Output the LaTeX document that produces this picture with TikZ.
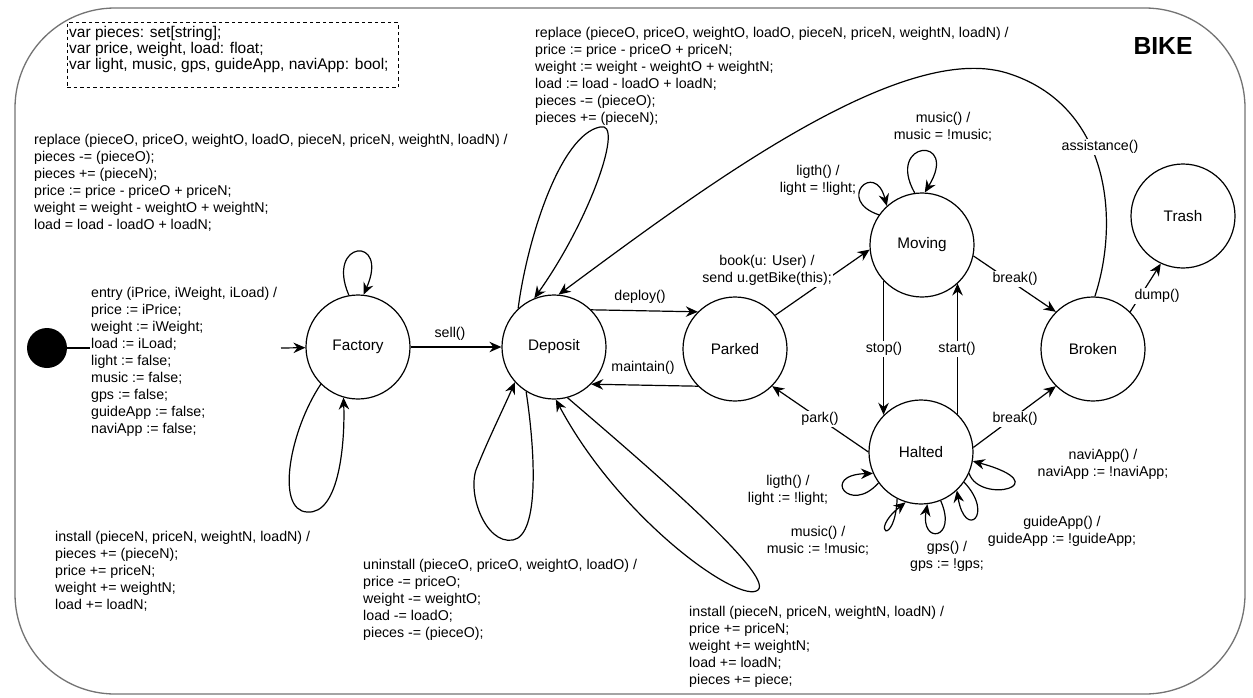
\documentclass[tikz,border=0pt]{standalone}
\usepackage{fontspec}
\setmainfont{Liberation Sans}
\usetikzlibrary{arrows.meta}
\begin{document}
\begin{tikzpicture}[x=1pt,y=-1pt,
  state/.style={circle,draw,line width=1.2pt,minimum size=104pt,inner sep=0pt,font=\fontsize{15.3}{18}\selectfont},
  lbl/.style={font=\fontsize{14.2}{17}\selectfont,inner sep=0pt,align=left,anchor=north west},
  clbl/.style={font=\fontsize{14.2}{17}\selectfont,inner sep=1.5pt,align=center,fill=white},
  ctxt/.style={font=\fontsize{14.2}{17}\selectfont,inner sep=0pt,align=center},
  tr/.style={line width=1.2pt,-{Stealth[length=12pt,width=10.5pt,inset=4pt]}},
  ln/.style={line width=1.2pt},
  declbox/.style={draw,line width=0.9pt,dash pattern=on 3.5pt off 3pt,minimum width=331pt,minimum height=65pt,inner sep=0pt},
  decltxt/.style={font=\fontsize{15.5}{16}\selectfont,inner sep=0pt,align=left,anchor=west},
]
\useasboundingbox (0,0) rectangle (1253,697);
\draw[black!55, line width=1.3pt, rounded corners=100pt] (15,8) rectangle (1245,694);

% declarations
\node[declbox] (decl) at (232.5,55) {};
\node[decltxt] (decltext) at (69,49) {var pieces: set[string];\\var price, weight, load: float;\\var light, music, gps, guideApp, naviApp: bool;};
\node[font=\fontsize{24.7}{28}\selectfont\bfseries] (bike) at (1163,46) {BIKE};

% states
\node[circle,fill=black,minimum size=40pt,inner sep=0pt] (init) at (47,348) {};
\node[state] (factory) at (358,347) {Factory};
\node[state] (deposit) at (554,347) {Deposit};
\node[state] (parked) at (735,349) {Parked};
\node[state] (moving) at (922,245) {Moving};
\node[state] (halted) at (921,452) {Halted};
\node[state] (broken) at (1093,349) {Broken};
\node[state] (trash) at (1183,216) {Trash};

% text blocks
\node[lbl] (entry) at (91,287) {entry (iPrice, iWeight, iLoad) /\\price := iPrice;\\weight := iWeight;\\load := iLoad;\\light := false;\\music := false;\\gps := false;\\guideApp := false;\\naviApp := false;};
\node[lbl] (replF) at (34,134) {replace (pieceO, priceO, weightO, loadO, pieceN, priceN, weightN, loadN) /\\pieces -= (pieceO);\\pieces += (pieceN);\\price := price - priceO + priceN;\\weight = weight - weightO + weightN;\\load = load - loadO + loadN;};
\node[lbl] (instF) at (55,531) {install (pieceN, priceN, weightN, loadN) /\\pieces += (pieceN);\\price += priceN;\\weight += weightN;\\load += loadN;};
\node[lbl] (replD) at (535,27) {replace (pieceO, priceO, weightO, loadO, pieceN, priceN, weightN, loadN) /\\price := price - priceO + priceN;\\weight := weight - weightO + weightN;\\load := load - loadO + loadN;\\pieces -= (pieceO);\\pieces += (pieceN);};
\node[lbl] (uninstD) at (363,559) {uninstall (pieceO, priceO, weightO, loadO) /\\price -= priceO;\\weight -= weightO;\\load -= loadO;\\pieces -= (pieceO);};
\node[lbl] (instD) at (689,606) {install (pieceN, priceN, weightN, loadN) /\\price += priceN;\\weight += weightN;\\load += loadN;\\pieces += piece;};

% initial transition
\coordinate (entryL) at (90,348);
\coordinate (entryR) at (281,348);
\draw[ln] (init) -- (entryL);
\draw[tr] (entryR) -- (factory);

% straight transitions
\draw[tr] (factory) -- (deposit);
\node[ctxt] (sell) at (450,334) {sell()};
\draw[tr] (deposit.45) -- (parked.135);
\node[ctxt] (deploy) at (640,297) {deploy()};
\draw[tr] (parked.225) -- (deposit.-45);
\node[ctxt] (maintain) at (643,368) {maintain()};
\draw[tr] (parked.40) -- (moving.185);
\node[clbl] (book) at (767,270) {book(u: User) /\\send u.getBike(this);};
\draw[tr] (halted.180) -- (parked.-45);
\node[clbl] (park) at (820,419) {park()};
\draw[tr] (moving.223) -- (moving.223 |- halted.135);
\node[clbl] (stop) at (884,349) {stop()};
\draw[tr] (halted.46) -- (halted.46 |- moving.-47);
\node[clbl] (start) at (957,349) {start()};
\draw[tr] (moving.-12) -- (broken.135);
\node[clbl] (break1) at (1015,279) {break()};
\draw[tr] (halted.5) -- (broken.225);
\node[clbl] (break2) at (1015,419) {break()};
\draw[tr] (broken.45) -- (trash.-115);
\node[clbl] (dump) at (1157,296) {dump()};

% assistance
\draw[tr] (broken.88) .. controls (1120,220) and (1110,105) .. (1007,73) .. controls (900,40) and (700,190) .. (deposit.85);
\node[clbl] (assist) at (1100,147) {assistance()};

% self loops
\draw[tr] (factory.100) .. controls (325,240) and (390,235) .. (factory.84);
\draw[tr] (factory.225) .. controls (290,430) and (275,510) .. (307,512) .. controls (340,515) and (345,440) .. (factory.254);
\draw[tr] (deposit.133) .. controls (527,240) and (560,135) .. (600,127) .. controls (625,120) and (590,220) .. (deposit.112);
\draw[tr] (deposit.238) .. controls (535,450) and (540,535) .. (513,540) .. controls (485,545) and (465,490) .. (478,465) .. controls (488,440) and (505,405) .. (deposit.222);
\draw[tr] (deposit.-75) .. controls (640,460) and (775,575) .. (758,590) .. controls (740,605) and (620,520) .. (deposit.-88);

\draw[tr] (moving.98) .. controls (885,140) and (960,135) .. (moving.87);
\node[ctxt] (mmusic) at (943,127) {music() /\\music = !music;};
\draw[tr] (moving.145) .. controls (835,200) and (875,160) .. (moving.132);
\node[ctxt] (mlight) at (818,180) {ligth() /\\light = !light;};

\draw[tr] (halted.216) .. controls (850,515) and (820,475) .. (halted.204);
\node[ctxt] (hlight) at (788,490) {ligth() /\\light := !light;};
\draw[tr] (halted.243) .. controls (895,548) and (868,532) .. (halted.253);
\node[ctxt] (hmusic) at (818,541) {music() /\\music := !music;};
\draw[tr] (halted.-68) .. controls (958,540) and (920,545) .. (halted.-83);
\node[ctxt] (hgps) at (947,556) {gps() /\\gps := !gps;};
\draw[tr] (halted.-35) .. controls (995,515) and (965,540) .. (halted.-47);
\node[ctxt] (hguide) at (1062,531) {guideApp() /\\guideApp := !guideApp;};
\draw[tr] (halted.-24) .. controls (980,505) and (1060,485) .. (halted.-10);
\node[ctxt] (hnavi) at (1103,464) {naviApp() /\\naviApp := !naviApp;};
\end{tikzpicture}
\end{document}
